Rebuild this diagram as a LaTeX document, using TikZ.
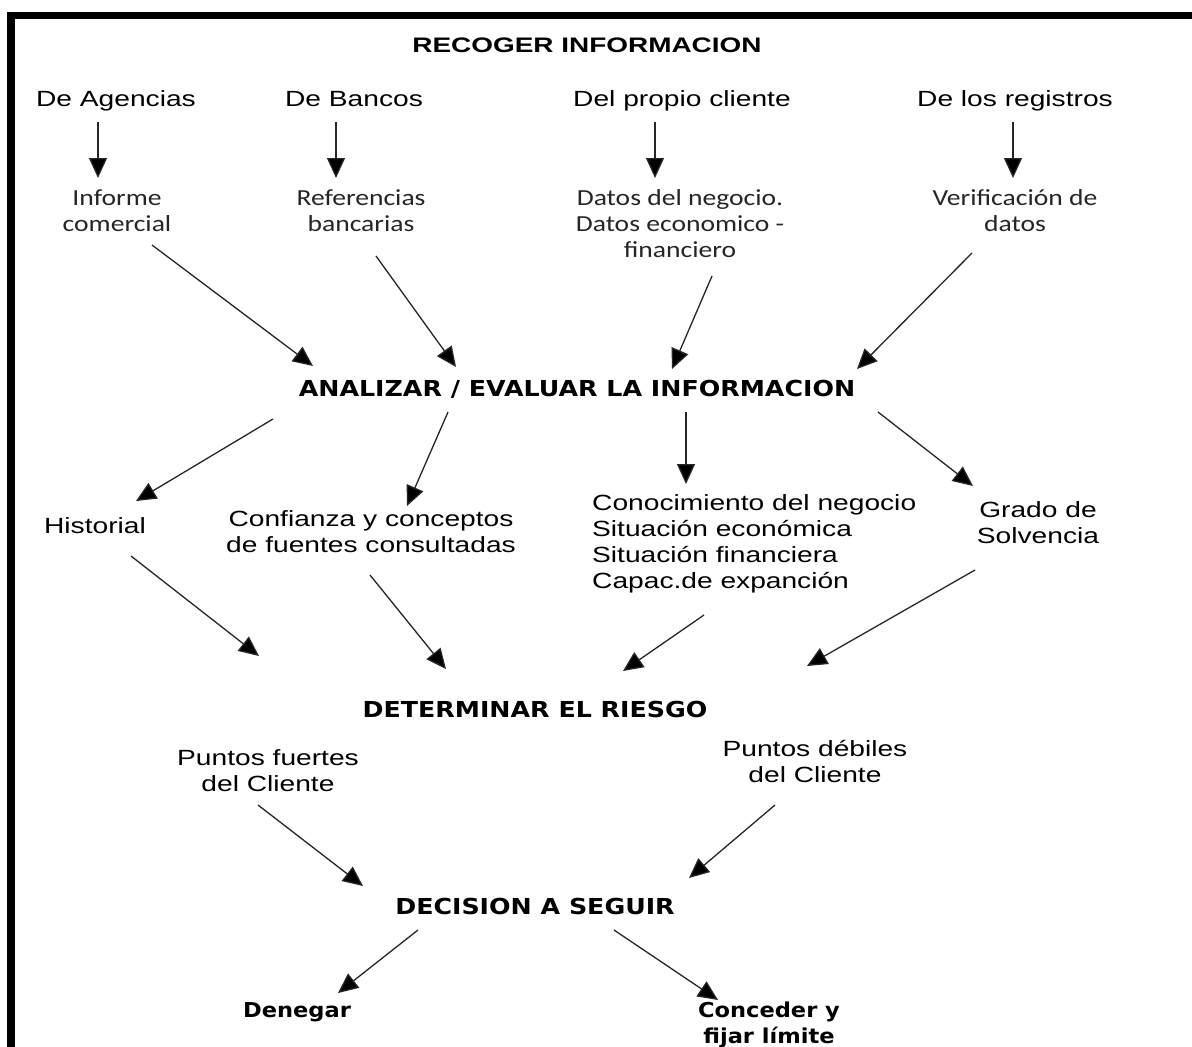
\documentclass[tikz,border=0pt]{standalone}
\usepackage{fontspec}
\setmainfont{Liberation Sans}[FakeStretch=1.28]
\newfontfamily\calfont{Carlito}[FakeStretch=1.2]
\newfontfamily\headfont{Liberation Sans}[FakeStretch=1.33]
\newfontfamily\wideboldfont{DejaVu Sans}[FakeStretch=1.15]
\newfontfamily\smallboldfont{DejaVu Sans}[FakeStretch=1.1]
\usetikzlibrary{arrows.meta}
\tikzset{
  lbl/.style={inner sep=0pt, align=center, font=\fontsize{22}{26}\selectfont},
  cal/.style={inner sep=0pt, align=center, font=\calfont\fontsize{23}{26}\selectfont, text=black!85},
  head/.style={inner sep=0pt, align=center, font=\headfont\bfseries\fontsize{21}{26}\selectfont},
  wide/.style={inner sep=0pt, align=center, font=\wideboldfont\bfseries\fontsize{22}{26}\selectfont},
  fin/.style={inner sep=0pt, align=center, font=\smallboldfont\bfseries\fontsize{20.5}{26}\selectfont},
  arr/.style={draw=black!85, line width=1.3pt, -{Triangle[length=20pt,width=18pt,fill=black]}},
}
\begin{document}
\begin{tikzpicture}[x=1pt,y=-1pt]
\useasboundingbox (0,0) rectangle (1192,1047);
\fill[white] (0,0) rectangle (1192,1047);
\draw[line width=7.5pt] (11,1047) -- (11,15.5) -- (1192,15.5);

% level 0
\node[head] (recoger) at (587,45) {RECOGER INFORMACION};
% sources
\node[lbl, anchor=base] (agencias) at (116,106) {De Agencias};
\node[lbl, anchor=base] (bancos) at (354,106) {De Bancos};
\node[lbl, anchor=base] (cliente) at (682,106) {Del propio cliente};
\node[lbl, anchor=base] (registros) at (1015,106) {De los registros};
% outputs
\node[cal] (informe) at (117,211) {Informe\\comercial};
\node[cal] (referencias) at (361,211) {Referencias\\bancarias};
\node[cal] (datos) at (680,224) {Datos del negocio.\\Datos economico -\\financiero};
\node[cal] (verif) at (1015,211) {Verificación de\\datos};

\coordinate (a1s) at (98,122);  \coordinate (a1e) at (98,178);
\coordinate (a2s) at (336,122); \coordinate (a2e) at (336,178);
\coordinate (a3s) at (655,122); \coordinate (a3e) at (655,178);
\coordinate (a4s) at (1013,122);\coordinate (a4e) at (1013,178);
\draw[arr] (a1s) -- (a1e);
\draw[arr] (a2s) -- (a2e);
\draw[arr] (a3s) -- (a3e);
\draw[arr] (a4s) -- (a4e);

% analizar
\node[wide] (analizar) at (577,389) {ANALIZAR / EVALUAR LA INFORMACION};
\coordinate (b1s) at (152,245); \coordinate (b1e) at (313,366);
\coordinate (b2s) at (376,256); \coordinate (b2e) at (456,367);
\coordinate (b3s) at (712,276); \coordinate (b3e) at (672,369);
\coordinate (b4s) at (972,253); \coordinate (b4e) at (857,369);
\draw[arr] (b1s) -- (b1e);
\draw[arr] (b2s) -- (b2e);
\draw[arr] (b3s) -- (b3e);
\draw[arr] (b4s) -- (b4e);

% level 2
\node[lbl] (historial) at (95,526) {Historial};
\node[lbl] (confianza) at (371,532) {Confianza y conceptos\\de fuentes consultadas};
\node[lbl, align=left, anchor=west] (conoc) at (592,544) {Conocimiento del negocio\\Situación económica\\Situación financiera\\Capac.de expanción};
\node[lbl] (grado) at (1038,523) {Grado de\\Solvencia};
\coordinate (c1s) at (273,419); \coordinate (c1e) at (136,501);
\coordinate (c2s) at (448,412); \coordinate (c2e) at (407,506);
\coordinate (c3s) at (686,412); \coordinate (c3e) at (686,484);
\coordinate (c4s) at (878,412); \coordinate (c4e) at (973,486);
\draw[arr] (c1s) -- (c1e);
\draw[arr] (c2s) -- (c2e);
\draw[arr] (c3s) -- (c3e);
\draw[arr] (c4s) -- (c4e);

% determinar
\node[wide] (determinar) at (535,709) {DETERMINAR EL RIESGO};
\coordinate (d1s) at (131,556); \coordinate (d1e) at (259,656);
\coordinate (d2s) at (370,575); \coordinate (d2e) at (446,669);
\coordinate (d3s) at (704,615); \coordinate (d3e) at (623,671);
\coordinate (d4s) at (975,570); \coordinate (d4e) at (807,666);
\draw[arr] (d1s) -- (d1e);
\draw[arr] (d2s) -- (d2e);
\draw[arr] (d3s) -- (d3e);
\draw[arr] (d4s) -- (d4e);

% puntos
\node[lbl] (fuertes) at (268,771) {Puntos fuertes\\del Cliente};
\node[lbl] (debiles) at (815,761) {Puntos débiles\\del Cliente};
\node[wide] (decision) at (535,906) {DECISION A SEGUIR};
\coordinate (e1s) at (258,805); \coordinate (e1e) at (363,886);
\coordinate (e2s) at (775,805); \coordinate (e2e) at (689,878);
\draw[arr] (e1s) -- (e1e);
\draw[arr] (e2s) -- (e2e);

% final
\node[fin] (denegar) at (297,1012) {Denegar};
\node[fin] (conceder) at (769,1025) {Conceder y\\fijar límite};
\coordinate (f1s) at (418,930); \coordinate (f1e) at (338,993);
\coordinate (f2s) at (614,930); \coordinate (f2e) at (718,1000);
\draw[arr] (f1s) -- (f1e);
\draw[arr] (f2s) -- (f2e);
\end{tikzpicture}
\end{document}
